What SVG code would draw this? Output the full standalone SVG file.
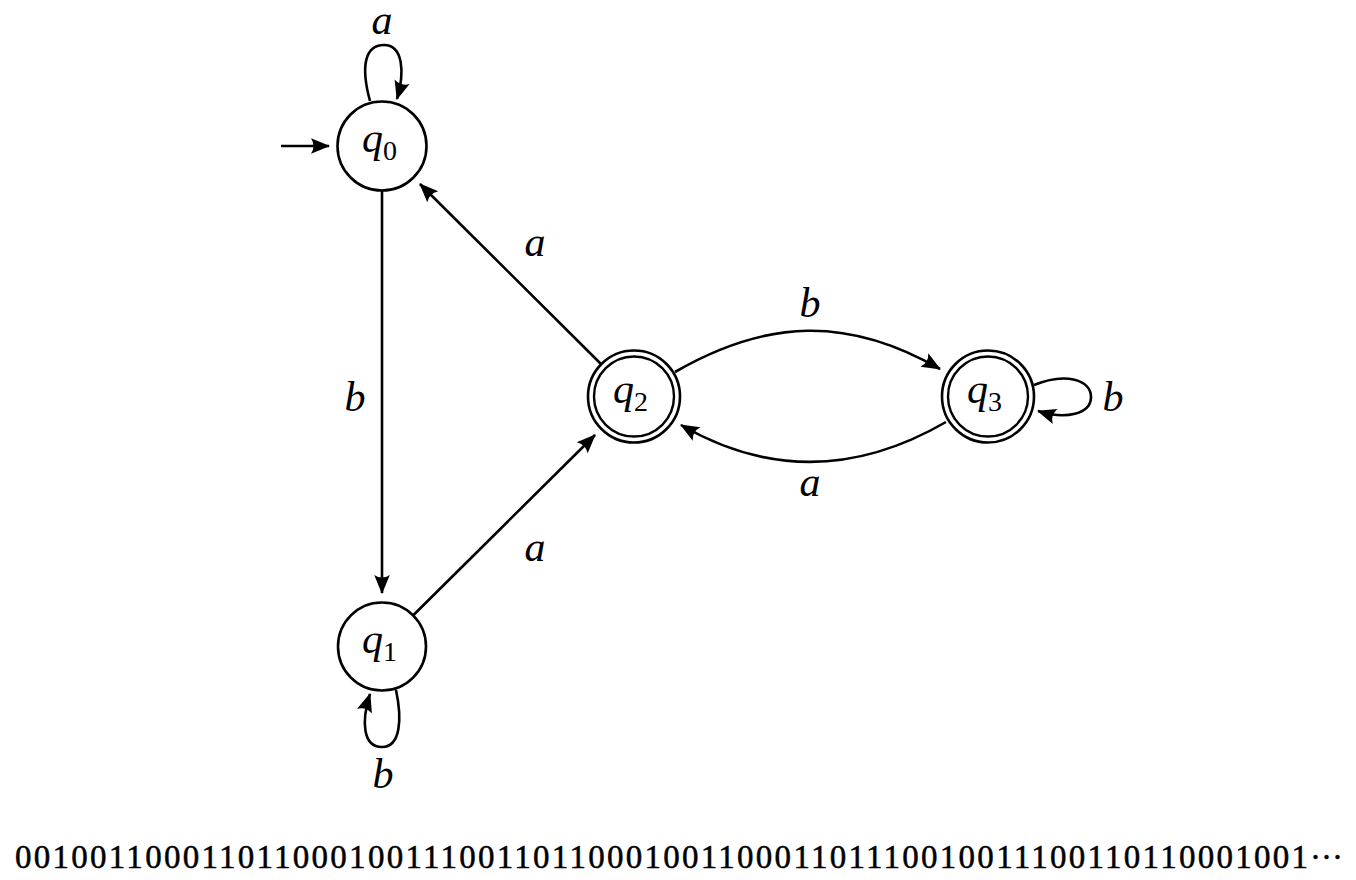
<svg xmlns="http://www.w3.org/2000/svg" width="1356" height="880" viewBox="0 0 1356 880">
<style>
.edge{fill:none;stroke:#000;stroke-width:2.6;marker-end:url(#arr)}
.node{fill:#fff;stroke:#000;stroke-width:2.6}
.ring{fill:none;stroke:#000;stroke-width:2.4}
.q{font-family:"Liberation Serif",serif;font-style:italic;font-size:42px;fill:#000}
.sub{font-family:"Liberation Serif",serif;font-style:normal;font-size:28px;fill:#000}
.lbl{font-family:"Liberation Serif",serif;font-style:italic;font-size:42px;fill:#000;text-anchor:middle}
.seq{font-family:"Liberation Serif",serif;font-size:33px;fill:#000;stroke:#000;stroke-width:0.5}
</style>
<defs>
<marker id="arr" viewBox="-19 -9 21 18" refX="0" refY="0" markerWidth="21" markerHeight="18" markerUnits="userSpaceOnUse" orient="auto">
<path d="M1,0 L-18,-7.8 Q-13,0 -18,7.8 Z" fill="#000"/>
</marker>
</defs>
<rect width="1356" height="880" fill="#fff"/>
<g id="connectors">
<path class="edge" d="M281,146 L329,146"/>
<path class="edge" d="M370,101 C361,68 364,45 384,45 C403,45 405,72 397,99"/>
<path class="edge" d="M396,690 C402,718 401,747 382,747 C363,747 361,722 370,694"/>
<path class="edge" d="M382,191 L382,593"/>
<path class="edge" d="M413,615.5 L595,435"/>
<path class="edge" d="M601,364 L420,184"/>
<path class="edge" d="M675,372 C767,319 848,316 940,369"/>
<path class="edge" d="M946,422 C858,473 769,476 681,425"/>
<path class="edge" d="M1034,385 C1066,372 1091,380 1091,397 C1091,414 1066,420 1038,411"/>
</g>
<g id="edge-labels">
<text class="lbl" x="382" y="34">a</text>
<text class="lbl" x="383" y="788">b</text>
<text class="lbl" x="355" y="411">b</text>
<text class="lbl" x="535" y="256">a</text>
<text class="lbl" x="535" y="561">a</text>
<text class="lbl" x="810" y="317">b</text>
<text class="lbl" x="810" y="496">a</text>
<text class="lbl" x="1113" y="411">b</text>
</g>
<g id="q0">
<circle class="node" cx="382" cy="146" r="44.5"/>
<text x="362" y="152"><tspan class="q">q</tspan><tspan class="sub" dy="8">0</tspan></text>
</g>
<g id="q1">
<circle class="node" cx="382" cy="646.5" r="44"/>
<text x="362" y="652.5"><tspan class="q">q</tspan><tspan class="sub" dy="8">1</tspan></text>
</g>
<g id="q2">
<circle class="node" cx="634" cy="396.5" r="46"/>
<circle class="ring" cx="634" cy="396.5" r="40"/>
<text x="613" y="402.5"><tspan class="q">q</tspan><tspan class="sub" dy="8">2</tspan></text>
</g>
<g id="q3">
<circle class="node" cx="988" cy="396.5" r="46"/>
<circle class="ring" cx="988" cy="396.5" r="40"/>
<text x="967" y="402.5"><tspan class="q">q</tspan><tspan class="sub" dy="8">3</tspan></text>
</g>
<g id="sequence">
<text class="seq" x="15" y="868" textLength="1293" lengthAdjust="spacing">0010011000110110001001110011011000100110001101110010011100110110001001</text>
<text class="seq" x="1310" y="868">···</text>
</g>
</svg>
